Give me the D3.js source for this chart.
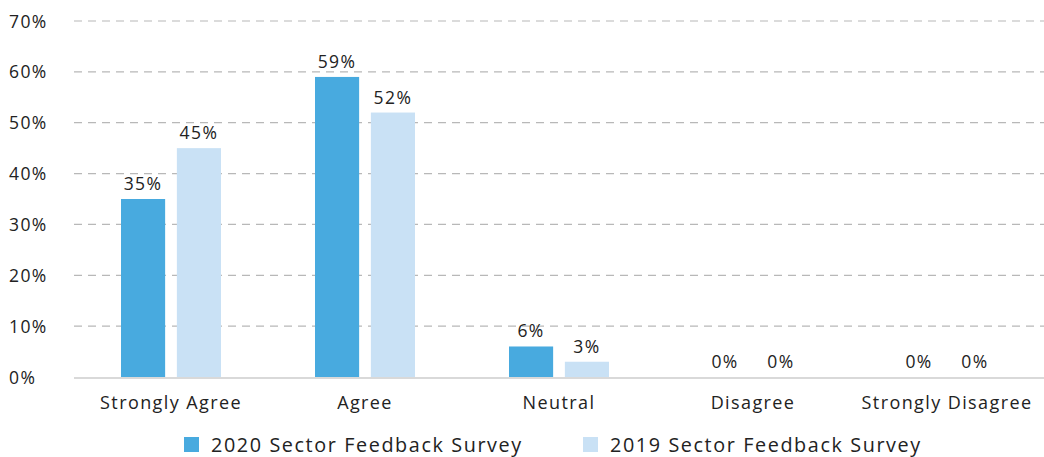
<!DOCTYPE html>
<html>
<head>
<meta charset="utf-8">
<script src="https://cdn.jsdelivr.net/npm/d3@7"></script>
<style>
  html, body { margin: 0; padding: 0; background: #ffffff; }
  svg { display: block; font-family: "Open Sans", sans-serif; }
</style>
</head>
<body>
<svg id="chart" width="1044" height="457"></svg>
<script>
const categories = ["Strongly Agree", "Agree", "Neutral", "Disagree", "Strongly Disagree"];
const seriesNames = ["2020 Sector Feedback Survey", "2019 Sector Feedback Survey"];
const values2020 = [35, 59, 6, 0, 0];
const values2019 = [45, 52, 3, 0, 0];
const yTicks = [0, 10, 20, 30, 40, 50, 60, 70];
const colors = ["#48aadf", "#c9e1f5"];

const svg = d3.select("#chart");
const margin = { left: 74, right: 0, top: 21 };
const width = 1044;

const x = d3.scaleBand().domain(categories).range([margin.left, width - margin.right]);
const inner = d3.scaleBand().domain(seriesNames).range([47, x.bandwidth() - 47]).paddingInner(0.21);
const y = d3.scaleLinear().domain([0, 70]).range([377, margin.top]);

const textColor = "#222";
const spacing = "1.4px";

// dashed gridlines
svg.append("g").selectAll("line").data(yTicks.filter(d => d > 0)).join("line")
  .attr("x1", margin.left).attr("x2", width)
  .attr("y1", d => y(d)).attr("y2", d => y(d))
  .attr("stroke", "#b8b8b8").attr("stroke-width", 1.2).attr("stroke-dasharray", "8,6");

// y tick labels
svg.append("g").selectAll("text").data(yTicks).join("text")
  .attr("x", 9).attr("y", d => y(d) + 6.5)
  .attr("font-size", 17.5).attr("letter-spacing", spacing).attr("fill", textColor)
  .text(d => d + "%");

// grouped bars
const rows = categories.map((c, i) => ({ cat: c, vals: [values2020[i], values2019[i]] }));
const groups = svg.append("g").selectAll("g").data(rows).join("g")
  .attr("transform", d => `translate(${x(d.cat)},0)`);
const cells = d => d.vals.map((v, j) => ({ v, s: seriesNames[j], j }));

groups.selectAll("rect").data(cells).join("rect")
  .attr("x", d => inner(d.s)).attr("width", inner.bandwidth())
  .attr("y", d => y(d.v)).attr("height", d => y(0) - y(d.v))
  .attr("fill", d => colors[d.j]);

// value labels
groups.selectAll("text").data(cells).join("text")
  .attr("x", d => inner(d.s) + inner.bandwidth() / 2)
  .attr("y", d => y(d.v) - 9)
  .attr("text-anchor", "middle").attr("font-size", 17.5).attr("letter-spacing", spacing).attr("fill", textColor)
  .text(d => d.v + "%");

// baseline
svg.append("line").attr("x1", margin.left).attr("x2", width)
  .attr("y1", y(0) + 1).attr("y2", y(0) + 1)
  .attr("stroke", "#d9d9d9").attr("stroke-width", 2);

// category labels
svg.append("g").selectAll("text").data(categories).join("text")
  .attr("x", d => Math.min(x(d) + x.bandwidth() / 2, 955))
  .attr("y", 409).attr("text-anchor", "middle")
  .attr("font-size", 18).attr("letter-spacing", spacing).attr("fill", textColor)
  .text(d => d);

// legend
const legendX = [184, 583];
const legend = svg.append("g").selectAll("g").data(seriesNames).join("g")
  .attr("transform", (d, i) => `translate(${legendX[i]},437)`);
legend.append("rect").attr("width", 15).attr("height", 15).attr("fill", (d, i) => colors[i]);
legend.append("text").attr("x", 27).attr("y", 14.5)
  .attr("font-size", 19.8).attr("letter-spacing", "1.6px").attr("fill", textColor)
  .text(d => d);
</script>
</body>
</html>
